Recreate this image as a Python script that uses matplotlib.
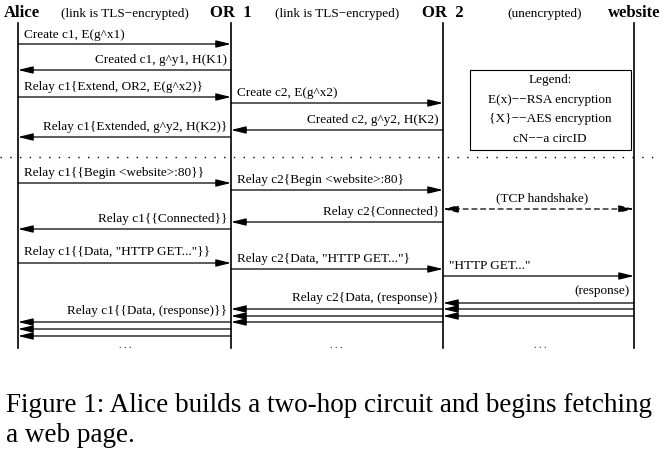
import matplotlib.pyplot as plt

plt.rcParams['font.family'] = ['Liberation Serif', 'DejaVu Serif']

# lifelines: name, x-position (pixels)
actors = ["Alice", "OR  1", "OR  2", "website"]
actor_x = [18, 231, 443, 634]
link_notes = ["(link is TLS\u2212encrypted)", "(link is TLS\u2212encryped)", "(unencrypted)"]

# messages: (from index, to index, y, label, label y)
messages = [
    (0, 1, 44, "Create c1, E(g^x1)", 35),
    (1, 0, 70, "Created c1, g^y1, H(K1)", 60),
    (0, 1, 97, "Relay c1{Extend, OR2, E(g^x2)}", 87),
    (1, 2, 103, "Create c2, E(g^x2)", 93),
    (2, 1, 130, "Created c2, g^y2, H(K2)", 120),
    (1, 0, 137, "Relay c1{Extended, g^y2, H(K2)}", 127),
    (0, 1, 183, "Relay c1{{Begin <website>:80}}", 173),
    (1, 2, 190, "Relay c2{Begin <website>:80}", 180),
    (2, 1, 222, "Relay c2{Connected}", 212),
    (1, 0, 229, "Relay c1{{Connected}}", 219),
    (0, 1, 263, "Relay c1{{Data, \"HTTP GET...\"}}", 252),
    (1, 2, 269, "Relay c2{Data, \"HTTP GET...\"}", 259),
    (2, 3, 276, "\"HTTP GET...\"", 266),
    (3, 2, 303, "(response)", 291),
    (3, 2, 309, "", 0),
    (3, 2, 316, "", 0),
    (2, 1, 309, "Relay c2{Data, (response)}", 298),
    (2, 1, 316, "", 0),
    (2, 1, 322, "", 0),
    (1, 0, 322, "Relay c1{{Data, (response)}}", 311),
    (1, 0, 329, "", 0),
    (1, 0, 336, "", 0),
]
tcp_y = 209
legend_lines = ["Legend:", "E(x)\u2212\u2212RSA encryption", "{X}\u2212\u2212AES encryption", "cN\u2212\u2212a circID"]

fig = plt.figure(figsize=(6.72, 4.51), dpi=100)
ax = fig.add_axes([0, 0, 1, 1])
ax.set_xlim(0, 672)
ax.set_ylim(451, 0)
ax.axis('off')

fs = 9.5
for name, x in zip(actors, actor_x):
    ax.text(x + (4 if x == 18 else 0), 13, name, ha='center', va='center', fontsize=12, fontweight='bold')
    ax.plot([x, x], [23, 348], color='black', lw=1.2)
for i, note in enumerate(link_notes):
    ax.text((actor_x[i] + actor_x[i + 1]) / 2 + (6 if i == 2 else 0), 14, note,
            ha='center', va='center', fontsize=fs)

for a, b, y, label, ly in messages:
    x0, x1 = actor_x[a], actor_x[b]
    ax.annotate("", xy=(x1, y), xytext=(x0, y),
                arrowprops=dict(arrowstyle='-|>,head_length=0.9,head_width=0.22',
                                lw=0.9, color='black', shrinkA=0, shrinkB=0))
    if label:
        if x1 > x0:
            ax.text(x0 + 6, ly, label, ha='left', va='center', fontsize=fs)
        else:
            ax.text(x0 - 4, ly, label, ha='right', va='center', fontsize=fs)

ax.annotate("", xy=(actor_x[3], tcp_y), xytext=(actor_x[2], tcp_y),
            arrowprops=dict(arrowstyle='<|-|>,head_length=0.9,head_width=0.22',
                            lw=0.9, ls=(0, (4, 3)), color='black', shrinkA=0, shrinkB=0))
ax.text(542, 198, "(TCP handshake)", ha='center', va='center', fontsize=fs)

ax.plot([0, 660], [157, 157], color='black', lw=1, ls=(0, (1, 6)))

ax.add_patch(plt.Rectangle((470, 70), 161, 80, fill=False, lw=0.8, color='black'))
for i, t in enumerate(legend_lines):
    ax.text(550, 80 + i * 19.5, t, ha='center', va='center', fontsize=fs)

for x in [125, 336, 540]:
    ax.text(x, 345, ". . .", ha='center', va='center', fontsize=7)

ax.text(6, 405, "Figure 1: Alice builds a two-hop circuit and begins fetching",
        ha='left', va='center', fontsize=19.5)
ax.text(6, 436, "a web page.", ha='left', va='center', fontsize=19.5)

fig.savefig('out.png', dpi=100)
